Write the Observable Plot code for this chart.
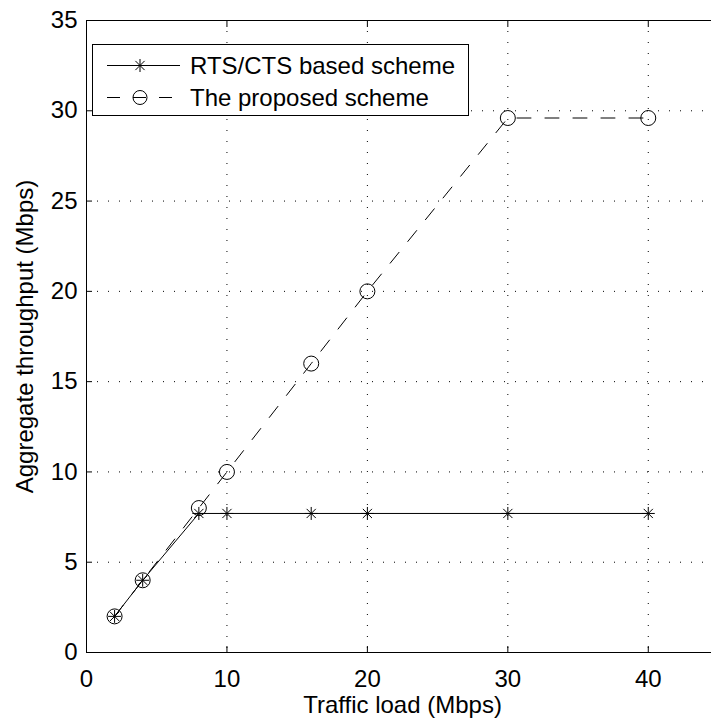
<!DOCTYPE html>
<html>
<head>
<meta charset="utf-8">
<script src="https://cdn.jsdelivr.net/npm/d3@7"></script>
<script src="https://cdn.jsdelivr.net/npm/@observablehq/plot@0.6"></script>
<style>
  html, body { margin: 0; padding: 0; background: white; }
  #wrap { position: relative; width: 711px; height: 723px; overflow: hidden; }
  #legend { position: absolute; left: 0; top: 0; pointer-events: none; }
</style>
</head>
<body>
<div id="wrap"></div>
<script>
// ---- data ----
const trafficLoad = [2, 4, 8, 10, 16, 20, 30, 40];
const rtsCtsThroughput = [2, 4, 7.7, 7.7, 7.7, 7.7, 7.7, 7.7];
const proposedThroughput = [2, 4, 8, 10, 16, 20, 29.6, 29.6];
const xTicks = [0, 10, 20, 30, 40];
const yTicks = [0, 5, 10, 15, 20, 25, 30, 35];
const seriesNames = ["RTS/CTS based scheme", "The proposed scheme"];
const xLabel = "Traffic load (Mbps)";
const yLabel = "Aggregate throughput (Mbps)";

const rtsData = trafficLoad.map((x, i) => ({x, y: rtsCtsThroughput[i]}));
const propData = trafficLoad.map((x, i) => ({x, y: proposedThroughput[i]}));

const font = "'Liberation Sans', Arial, Helvetica, sans-serif";
const R = 6.5, D = R * Math.SQRT1_2;
const asterisk = {
  draw(ctx) {
    ctx.moveTo(-R, 0); ctx.lineTo(R, 0);
    ctx.moveTo(0, -R); ctx.lineTo(0, R);
    ctx.moveTo(-D, -D); ctx.lineTo(D, D);
    ctx.moveTo(-D, D); ctx.lineTo(D, -D);
  }
};
const dash = "14,14";
const blank = () => "";

const chart = Plot.plot({
  width: 711,
  height: 723,
  marginLeft: 86,
  marginTop: 20,
  marginBottom: 71,
  marginRight: -7,
  style: {fontFamily: font, fontSize: "24px", background: "white", color: "black", overflow: "hidden"},
  x: {domain: [0, 45]},
  y: {domain: [0, 35]},
  marks: [
    Plot.gridX({ticks: xTicks, stroke: "black", strokeOpacity: 1, strokeDasharray: "1,10"}),
    Plot.gridY({ticks: yTicks, stroke: "black", strokeOpacity: 1, strokeDasharray: "1,10"}),
    Plot.line(rtsData, {x: "x", y: "y", stroke: "black", strokeWidth: 1}),
    Plot.line(propData, {x: "x", y: "y", stroke: "black", strokeWidth: 1, strokeDasharray: dash}),
    Plot.dot(rtsData, {x: "x", y: "y", symbol: asterisk, stroke: "black", fill: "none", strokeWidth: 1}),
    Plot.dot(propData, {x: "x", y: "y", r: 7.5, stroke: "black", fill: "none", strokeWidth: 1}),
    Plot.frame({stroke: "black", strokeWidth: 1}),
    Plot.axisX({ticks: xTicks, anchor: "bottom", tickSize: -6, tickFormat: blank, label: null}),
    Plot.axisX({ticks: xTicks, anchor: "top", tickSize: -6, tickFormat: blank, label: null}),
    Plot.axisY({ticks: yTicks, anchor: "left", tickSize: -6, tickFormat: blank, label: null}),
    Plot.axisX({ticks: xTicks, anchor: "bottom", tickSize: 0, tickPadding: 17, fontSize: 24,
      label: xLabel, labelAnchor: "center", labelArrow: "none", labelOffset: 60}),
    Plot.axisY({ticks: yTicks, anchor: "left", tickSize: 0, tickPadding: 9, fontSize: 24,
      label: yLabel, labelAnchor: "center", labelArrow: "none", labelOffset: 71})
  ]
});
document.getElementById("wrap").appendChild(chart);

// ---- legend (overlay) ----
const svg = d3.select("#wrap").append("svg")
  .attr("id", "legend").attr("width", 711).attr("height", 723)
  .style("font-family", font).style("font-size", "24px");
svg.append("rect").attr("x", 92.5).attr("y", 44.5).attr("width", 376).attr("height", 71)
  .attr("fill", "white").attr("stroke", "black").attr("stroke-width", 1);
const rows = [{y: 65, dash: null, marker: "asterisk"}, {y: 97, dash: "13,13", marker: "circle"}];
rows.forEach((r, i) => {
  const g = svg.append("g");
  g.append("line").attr("x1", 107).attr("x2", 180).attr("y1", r.y + 0.5).attr("y2", r.y + 0.5)
    .attr("stroke", "black").attr("stroke-width", 1).attr("stroke-dasharray", r.dash);
  if (r.marker === "asterisk") {
    const p = d3.path(); asterisk.draw(p);
    g.append("path").attr("d", p.toString()).attr("transform", `translate(140,${r.y + 0.5})`)
      .attr("stroke", "black").attr("fill", "none");
  } else {
    g.append("circle").attr("cx", 140).attr("cy", r.y + 0.5).attr("r", 7)
      .attr("stroke", "black").attr("fill", "none");
  }
  g.append("text").attr("x", 190).attr("y", r.y + 8.5).text(seriesNames[i]).attr("fill", "black");
});
</script>
</body>
</html>
